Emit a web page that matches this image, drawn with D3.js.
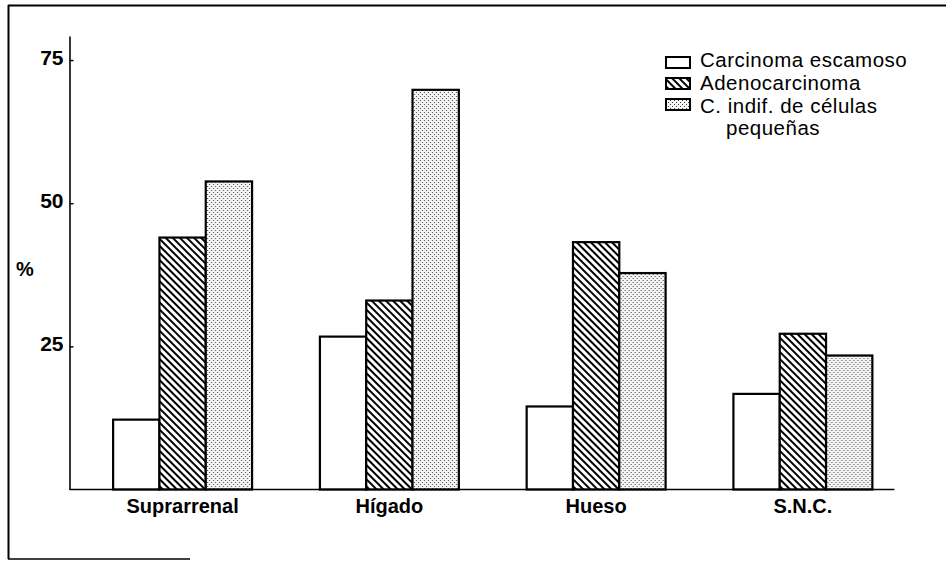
<!DOCTYPE html>
<html>
<head>
<meta charset="utf-8">
<script src="https://cdn.jsdelivr.net/npm/d3@7"></script>
<style>
  html, body { margin: 0; padding: 0; background: #fff; }
  svg { display: block; font-family: "Liberation Sans", Arial, Helvetica, sans-serif; }
</style>
</head>
<body>
<svg id="chart" width="946" height="561"></svg>
<script>
// ---- data ----
const categories = ["Suprarrenal", "Hígado", "Hueso", "S.N.C."];
const seriesNames = ["Carcinoma escamoso", "Adenocarcinoma", "C. indif. de células pequeñas"];
const carcinomaEscamoso = [12.2, 26.7, 14.5, 16.7];
const adenocarcinoma = [44.0, 33.0, 43.2, 27.2];
const celulasPequenas = [53.8, 69.8, 37.8, 23.4];
const tickValues = [25, 50, 75];
const yMax = 79.2;

const seriesValues = [carcinomaEscamoso, adenocarcinoma, celulasPequenas];
const fills = ["#ffffff", "url(#hatch)", "url(#dots)"];

const svg = d3.select("#chart");
const defs = svg.append("defs");

// hatch pattern (diagonal top-left -> bottom-right)
const hatch = defs.append("pattern")
  .attr("id", "hatch").attr("patternUnits", "userSpaceOnUse")
  .attr("width", 5).attr("height", 5)
  .attr("patternTransform", "rotate(45)");
hatch.append("rect").attr("width", 5).attr("height", 5).attr("fill", "#fff");
hatch.append("rect").attr("x", 0).attr("y", 0).attr("width", 5).attr("height", 2).attr("fill", "#000");

// stipple pattern
const dots = defs.append("pattern")
  .attr("id", "dots").attr("patternUnits", "userSpaceOnUse")
  .attr("width", 4).attr("height", 4);
dots.append("rect").attr("width", 4).attr("height", 4).attr("fill", "#f4f4f4");
dots.append("rect").attr("x", 0).attr("y", 0).attr("width", 1).attr("height", 1).attr("fill", "#444");
dots.append("rect").attr("x", 2).attr("y", 2).attr("width", 1).attr("height", 1).attr("fill", "#444");

// frame
svg.append("line").attr("x1", 8).attr("y1", 5.5).attr("x2", 946).attr("y2", 5.5)
  .attr("stroke", "#000").attr("stroke-width", 2);
svg.append("line").attr("x1", 8.5).attr("y1", 5).attr("x2", 8.5).attr("y2", 559)
  .attr("stroke", "#000").attr("stroke-width", 2);
svg.append("line").attr("x1", 8).attr("y1", 559).attr("x2", 190).attr("y2", 559)
  .attr("stroke", "#000").attr("stroke-width", 1.5);

// scales
const axisX = 69.5;
const x = d3.scaleBand().domain(categories).range([axisX, 916])
  .paddingInner(0.328).paddingOuter(0.211);
const xs = d3.scaleBand().domain(d3.range(seriesNames.length)).range([0, x.bandwidth()]).padding(0);
const y = d3.scaleLinear().domain([0, yMax]).range([489.5, 36]);

// bars
const g = svg.append("g");
categories.forEach((c, ci) => {
  const gg = g.append("g").attr("transform", `translate(${x(c)},0)`);
  gg.selectAll("rect").data(seriesValues.map((s, si) => ({ si, v: s[ci] })))
    .join("rect")
    .attr("x", d => xs(d.si))
    .attr("y", d => y(d.v))
    .attr("width", xs.bandwidth())
    .attr("height", d => y(0) - y(d.v))
    .attr("fill", d => fills[d.si])
    .attr("stroke", "#000")
    .attr("stroke-width", 2.2);
});

// baseline
svg.append("line")
  .attr("x1", axisX).attr("x2", x(categories[categories.length - 1]) + x.bandwidth() + 22)
  .attr("y1", y(0)).attr("y2", y(0))
  .attr("stroke", "#000").attr("stroke-width", 1.6);

// y axis
const yAxis = d3.axisLeft(y).tickValues(tickValues).tickSizeInner(-4).tickSizeOuter(0).tickPadding(6);
const ya = svg.append("g").attr("transform", `translate(${axisX},0)`).call(yAxis);
ya.select(".domain").attr("stroke", "#000").attr("stroke-width", 1.6);
ya.selectAll(".tick line").attr("stroke", "#000").attr("stroke-width", 1.5);
ya.selectAll(".tick text")
  .attr("fill", "#000").attr("font-size", 21).attr("font-weight", "bold")
  .attr("font-family", "Liberation Sans, Arial, sans-serif")
  .attr("dy", "0.22em");

// % label
svg.append("text").attr("x", 25).attr("y", 276).attr("text-anchor", "middle")
  .attr("font-size", 20).attr("font-weight", "bold").text("%");

// category labels
svg.append("g").selectAll("text").data(categories).join("text")
  .attr("x", d => x(d) + x.bandwidth() / 2)
  .attr("y", 513)
  .attr("text-anchor", "middle")
  .attr("font-size", 20).attr("font-weight", "bold")
  .text(d => d);

// legend
const legend = svg.append("g").attr("transform", "translate(666,0)");
const boxY = [57, 78, 99];
const textY = [67, 90, 113];
seriesNames.forEach((name, i) => {
  legend.append("rect").attr("x", 0).attr("y", boxY[i]).attr("width", 24).attr("height", 11)
    .attr("fill", fills[i]).attr("stroke", "#000").attr("stroke-width", 2);
});
const ls = 0.5, lf = 20.5;
legend.append("text").attr("x", 34).attr("y", textY[0]).attr("font-size", lf).attr("letter-spacing", ls).text(seriesNames[0]);
legend.append("text").attr("x", 34).attr("y", textY[1]).attr("font-size", lf).attr("letter-spacing", ls).text(seriesNames[1]);
legend.append("text").attr("x", 34).attr("y", textY[2]).attr("font-size", lf).attr("letter-spacing", ls).text("C. indif. de células");
legend.append("text").attr("x", 60).attr("y", 135).attr("font-size", lf).attr("letter-spacing", ls).text("pequeñas");
</script>
</body>
</html>
